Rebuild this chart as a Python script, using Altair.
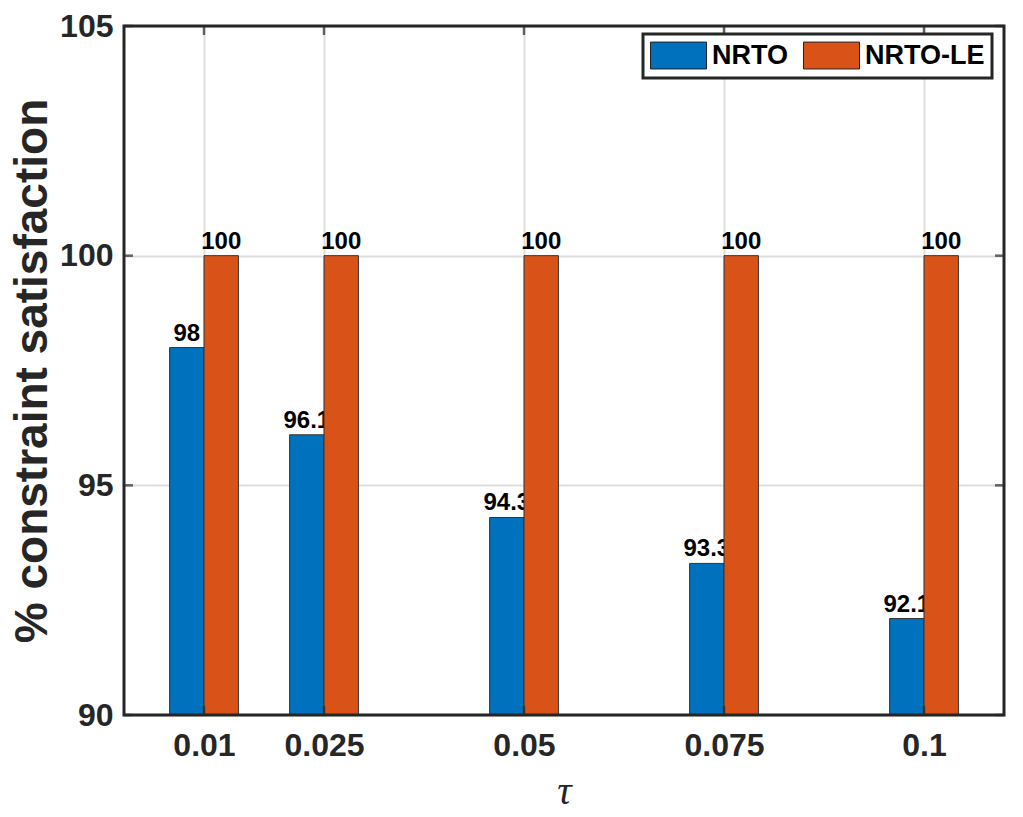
import altair as alt
import pandas as pd

tau = [0.01, 0.025, 0.05, 0.075, 0.1]
nrto = [98, 96.1, 94.3, 93.3, 92.1]
nrto_le = [100, 100, 100, 100, 100]
series = ["NRTO", "NRTO-LE"]
colors = ["#0072BD", "#D95319"]
y_ticks = [90, 95, 100, 105]

BW = 0.0043  # bar width in data units

rows = []
for t, a, b in zip(tau, nrto, nrto_le):
    rows.append({"tau": t, "series": series[0], "value": a, "side": -1})
    rows.append({"tau": t, "series": series[1], "value": b, "side": 0})
df = pd.DataFrame(rows)

FONT = "Liberation Sans"
DARK = "#262626"

xscale = alt.Scale(domain=[0, 0.11], nice=False, zero=False)
yscale = alt.Scale(domain=[90, 105], nice=False, zero=False)
cscale = alt.Scale(domain=series, range=colors)

base = alt.Chart(df).transform_calculate(
    x0=f"datum.tau + datum.side * {BW}",
    x1=f"datum.tau + (datum.side + 1) * {BW}",
    xc=f"datum.tau + (datum.side + 0.5) * {BW}",
)

xaxis = alt.Axis(values=tau, labelExpr="'' + datum.value", title="τ", grid=True, ticks=False,
                 domain=False, labelFontSize=32, labelFontWeight="bold", labelFont=FONT,
                 labelColor=DARK, labelPadding=15, titleFont="Liberation Serif",
                 titleFontStyle="italic", titleFontWeight="normal", titleFontSize=40,
                 titleColor=DARK, titlePadding=10, gridColor="#dedede", gridWidth=2)
yaxis = alt.Axis(values=y_ticks, format="d", title="% constraint satisfaction", grid=True,
                 ticks=False, domain=False, labelFontSize=32, labelFontWeight="bold",
                 labelFont=FONT, labelColor=DARK, labelPadding=11, titleFont=FONT,
                 titleFontWeight="bold", titleFontSize=46, titleColor=DARK, titlePadding=3,
                 gridColor="#dedede", gridWidth=2)

def bars(name, legend=None):
    return base.transform_filter(alt.datum.series == name).mark_rect(
        stroke="#333333", strokeWidth=1
    ).encode(
        x=alt.X("x0:Q", scale=xscale, axis=xaxis),
        x2="x1:Q",
        y=alt.Y("value:Q", scale=yscale, axis=yaxis),
        y2=alt.datum(90),
        color=alt.Color("series:N", scale=cscale, legend=legend),
    )

def labels(name):
    return base.transform_filter(alt.datum.series == name).mark_text(
        font=FONT, fontWeight="bold", fontSize=24, color="black", baseline="alphabetic", dy=-7
    ).encode(
        x=alt.X("xc:Q", scale=xscale, axis=xaxis),
        y=alt.Y("value:Q", scale=yscale, axis=yaxis),
        text=alt.Text("value:Q", format="~g"),
    )

legend = alt.Legend(
    title=None, orient="none", legendX=519, legendY=8, direction="horizontal",
    labelFont=FONT, labelFontSize=27, labelFontWeight="bold", labelColor="black",
    symbolType="M-2,-0.96H2V0.96H-2Z", symbolSize=784, symbolOffset=14,
    symbolStrokeColor="#222222", symbolStrokeWidth=1, symbolOpacity=1,
    labelOffset=19, columnPadding=12, padding=7, strokeColor=DARK, fillColor="white",
)

xt = pd.DataFrame({"tau": tau})
yt = pd.DataFrame({"v": y_ticks})

def tk(**kw):
    return dict(size=9, thickness=2.5, color=DARK, **kw)

tick_bottom = alt.Chart(xt).mark_tick(**tk(orient="vertical", yOffset=-4.5)).encode(
    x=alt.X("tau:Q", scale=xscale, axis=xaxis), y=alt.YDatum(90, scale=yscale, axis=yaxis))
tick_top = alt.Chart(xt).mark_tick(**tk(orient="vertical", yOffset=4.5)).encode(
    x=alt.X("tau:Q", scale=xscale, axis=xaxis), y=alt.YDatum(105, scale=yscale, axis=yaxis))
tick_left = alt.Chart(yt).mark_tick(**tk(orient="horizontal", xOffset=4.5)).encode(
    y=alt.Y("v:Q", scale=yscale, axis=yaxis), x=alt.XDatum(0, scale=xscale, axis=xaxis))
tick_right = alt.Chart(yt).mark_tick(**tk(orient="horizontal", xOffset=-4.5)).encode(
    y=alt.Y("v:Q", scale=yscale, axis=yaxis), x=alt.XDatum(0.11, scale=xscale, axis=xaxis))

frame = alt.Chart(xt.head(1)).mark_rect(fill=None, fillOpacity=0, stroke=DARK, strokeWidth=3).encode(
    x=alt.XDatum(0, scale=xscale, axis=xaxis), x2=alt.X2Datum(0.11),
    y=alt.YDatum(90, scale=yscale, axis=yaxis), y2=alt.Y2Datum(105))

chart = alt.layer(
    bars("NRTO", legend=legend),
    labels("NRTO"),
    bars("NRTO-LE", legend=legend),
    labels("NRTO-LE"),
    tick_bottom, tick_top, tick_left, tick_right,
    frame,
).properties(
    width=880, height=689,
    autosize=alt.AutoSizeParams(type="none"),
    padding={"left": 116, "top": 18, "right": 10, "bottom": 100},
).configure_view(stroke=None).configure_legend(strokeWidth=3)

chart.save("out.html", embed_options={"renderer": "svg", "actions": False})
